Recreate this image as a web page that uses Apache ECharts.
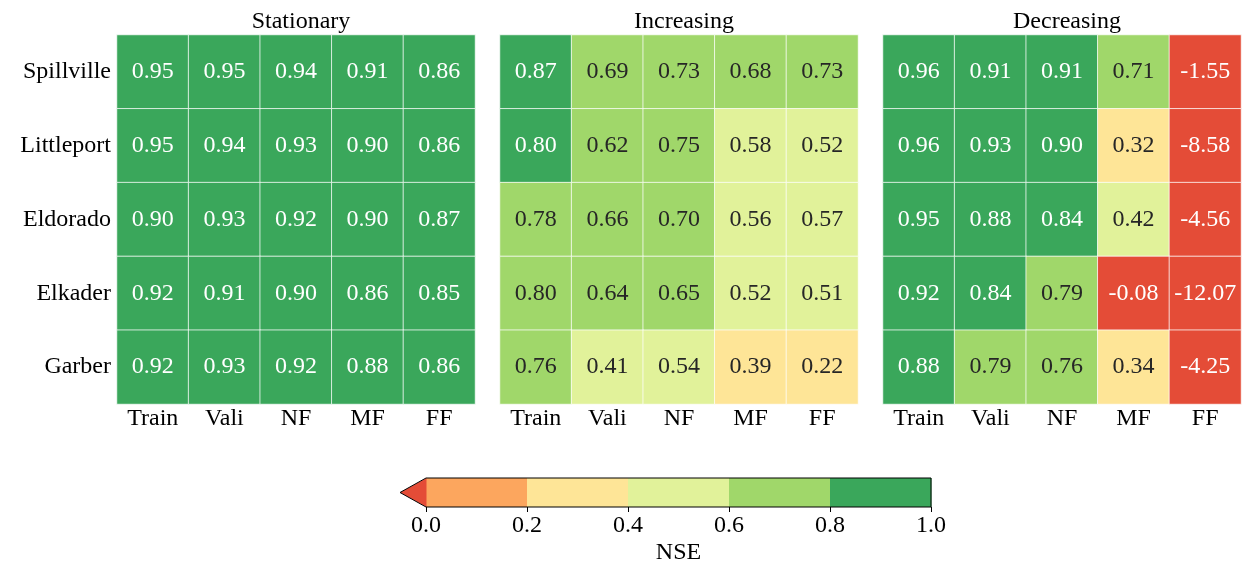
<!DOCTYPE html>
<html>
<head>
<meta charset="utf-8">
<script src="https://cdn.jsdelivr.net/npm/echarts@6/dist/echarts.min.js"></script>
<style>
  html, body { margin: 0; padding: 0; background: #fff; }
  #chart { width: 1243px; height: 563px; }
</style>
</head>
<body>
<div id="chart"></div>
<script>
// Stations (rows) and evaluation periods (columns)
const stations = ['Spillville', 'Littleport', 'Eldorado', 'Elkader', 'Garber'];
const periods = ['Train', 'Vali', 'NF', 'MF', 'FF'];
const panelTitles = ['Stationary', 'Increasing', 'Decreasing'];

// NSE scores, one row per station
const stationary = [
  [0.95, 0.95, 0.94, 0.91, 0.86],
  [0.95, 0.94, 0.93, 0.90, 0.86],
  [0.90, 0.93, 0.92, 0.90, 0.87],
  [0.92, 0.91, 0.90, 0.86, 0.85],
  [0.92, 0.93, 0.92, 0.88, 0.86]
];
const increasing = [
  [0.87, 0.69, 0.73, 0.68, 0.73],
  [0.802, 0.62, 0.75, 0.58, 0.52],
  [0.78, 0.66, 0.70, 0.56, 0.57],
  [0.798, 0.64, 0.65, 0.52, 0.51],
  [0.76, 0.41, 0.54, 0.39, 0.22]
];
const decreasing = [
  [0.96, 0.91, 0.91, 0.71, -1.55],
  [0.96, 0.93, 0.90, 0.32, -8.58],
  [0.95, 0.88, 0.84, 0.42, -4.56],
  [0.92, 0.84, 0.79, -0.08, -12.07],
  [0.88, 0.79, 0.76, 0.34, -4.25]
];

// Colour bins for the NSE scale (first colour is the below-zero extension)
const nseBounds = [0.0, 0.2, 0.4, 0.6, 0.8, 1.0];
const nseTicks = [0.0, 0.2, 0.4, 0.6, 0.8, 1.0];
const underColor = '#e44c37';
const binColors = ['#fca65e', '#fee597', '#e1f29a', '#a0d76a', '#3aa75b'];

const FONT = 'Liberation Serif';
const FS = 24;
const DARK_TEXT = '#262626';

const panels = [stationary, increasing, decreasing];
const gridLefts = [117, 500, 883];
const gridWidth = 358;
const gridTop = 35;
const gridHeight = 369;

const pieces = [{ lt: nseBounds[0], color: underColor }];
for (let i = 0; i < binColors.length; i++) {
  pieces.push({ gte: nseBounds[i], lt: i === binColors.length - 1 ? 1e9 : nseBounds[i + 1], color: binColors[i] });
}

function labelColor(v) {
  return (v >= 0.8 || v < 0) ? '#ffffff' : DARK_TEXT;
}

const grids = [], xAxes = [], yAxes = [], series = [], titles = [];
panels.forEach((mat, p) => {
  grids.push({ left: gridLefts[p], top: gridTop, width: gridWidth, height: gridHeight, outerBoundsMode: 'none', containLabel: false });
  xAxes.push({
    type: 'category', gridIndex: p, data: periods, position: 'bottom',
    axisLine: { show: false }, axisTick: { show: false }, splitLine: { show: false },
    axisLabel: { fontFamily: FONT, fontSize: FS, color: '#000', margin: 3 }
  });
  yAxes.push({
    type: 'category', gridIndex: p, data: stations, inverse: true,
    axisLine: { show: false }, axisTick: { show: false }, splitLine: { show: false },
    axisLabel: { show: p === 0, fontFamily: FONT, fontSize: FS, color: '#000', margin: 6 }
  });
  const data = [];
  mat.forEach((row, r) => row.forEach((v, c) => {
    data.push({ value: [c, r, v], label: { color: labelColor(v) } });
  }));
  series.push({
    type: 'heatmap', xAxisIndex: p, yAxisIndex: p, data: data,
    itemStyle: { borderColor: 'rgba(255,255,255,0.75)', borderWidth: 1 },
    label: {
      show: true, fontFamily: FONT, fontSize: FS,
      formatter: (prm) => prm.value[2].toFixed(2)
    },
    emphasis: { disabled: true }
  });
  titles.push({
    text: panelTitles[p], left: gridLefts[p] + gridWidth / 2, top: 5, textAlign: 'center',
    textStyle: { fontFamily: FONT, fontSize: FS, fontWeight: 'normal', color: '#000' }
  });
});

// Colour bar grid
const cbIndex = 3;
grids.push({ left: 426, top: 478, width: 505, height: 29, outerBoundsMode: 'none', containLabel: false });
xAxes.push({
  type: 'value', gridIndex: cbIndex, min: 0, max: 1, interval: 0.2,
  axisLine: { show: false }, splitLine: { show: false },
  axisTick: { show: true, length: 5, lineStyle: { color: '#000', width: 1 } },
  axisLabel: {
    fontFamily: FONT, fontSize: FS, color: '#000', margin: 7,
    formatter: (v) => nseTicks.includes(+v.toFixed(1)) ? v.toFixed(1) : ''
  },
  name: 'NSE', nameLocation: 'middle', nameGap: 34,
  nameTextStyle: { fontFamily: FONT, fontSize: FS, color: '#000' }
});
yAxes.push({ type: 'value', gridIndex: cbIndex, min: 0, max: 1, show: false });

const binData = binColors.map((c, i) => [nseBounds[i], nseBounds[i + 1], i]);
series.push({
  type: 'custom', xAxisIndex: cbIndex, yAxisIndex: cbIndex, silent: true,
  data: binData,
  renderItem: (params, api) => {
    const p0 = api.coord([api.value(0), 1]);
    const p1 = api.coord([api.value(1), 0]);
    return {
      type: 'rect',
      shape: { x: p0[0], y: p0[1], width: p1[0] - p0[0] + 0.5, height: p1[1] - p0[1] },
      style: { fill: binColors[api.value(2)] }
    };
  }
});
// Below-zero extension triangle and outline of the whole bar
series.push({
  type: 'custom', xAxisIndex: cbIndex, yAxisIndex: cbIndex, silent: true, clip: false,
  data: [[0]],
  renderItem: (params, api) => {
    const tl = api.coord([nseBounds[0], 1]);
    const br = api.coord([nseBounds[nseBounds.length - 1], 0]);
    const bl = api.coord([nseBounds[0], 0]);
    const tr = api.coord([nseBounds[nseBounds.length - 1], 1]);
    const tipX = tl[0] - 26;
    const midY = (tl[1] + bl[1]) / 2;
    return {
      type: 'group',
      children: [
        { type: 'polygon', shape: { points: [[tl[0] + 0.5, tl[1]], [tipX, midY], [bl[0] + 0.5, bl[1]]] }, style: { fill: underColor } },
        {
          type: 'polygon',
          shape: { points: [[tipX, midY], [tl[0], tl[1]], [tr[0], tr[1]], [br[0], br[1]], [bl[0], bl[1]]] },
          style: { fill: null, stroke: '#000', lineWidth: 1 }
        }
      ]
    };
  }
});

const chart = echarts.init(document.getElementById('chart'), null, { renderer: 'canvas' });
chart.setOption({
  animation: false,
  backgroundColor: '#fff',
  title: titles,
  grid: grids,
  xAxis: xAxes,
  yAxis: yAxes,
  visualMap: {
    type: 'piecewise', show: false, seriesIndex: [0, 1, 2], dimension: 2,
    pieces: pieces
  },
  series: series
});
</script>
</body>
</html>
